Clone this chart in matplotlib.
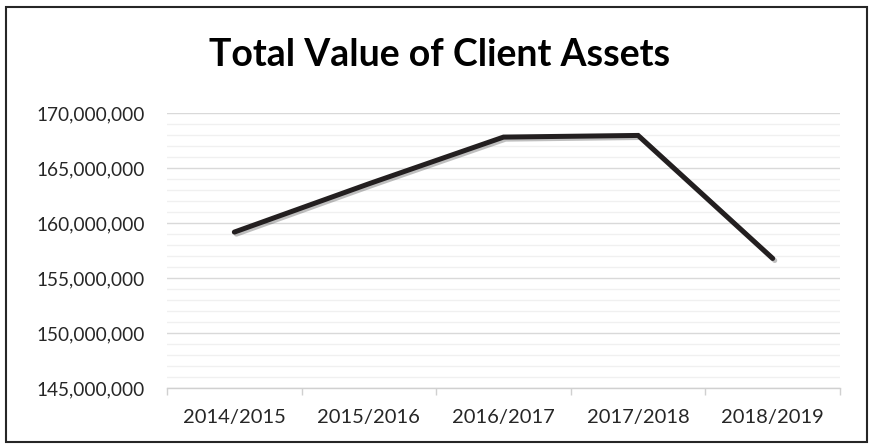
import matplotlib
matplotlib.use('Agg')
import matplotlib.pyplot as plt
import matplotlib.patheffects as pe
from matplotlib.ticker import FuncFormatter, MultipleLocator
from matplotlib.patches import Rectangle

plt.rcParams['font.family'] = ['Lato', 'DejaVu Sans']

years = ['2014/2015', '2015/2016', '2016/2017', '2017/2018', '2018/2019']
assets = [159200000, 163600000, 167850000, 168000000, 156800000]

fig = plt.figure(figsize=(8.7, 4.45), dpi=100)
ax = fig.add_axes([0.192, 0.128, 0.7735, 0.617])

x = list(range(len(years)))
ax.plot(x, assets, color='#231f20', lw=3.6, solid_capstyle='round', solid_joinstyle='miter',
        path_effects=[pe.SimpleLineShadow(offset=(1.5, -1.5), shadow_color='#000000', alpha=0.25),
                      pe.Normal()], zorder=3)

ax.set_xlim(-0.5, len(years) - 0.5)
ax.set_ylim(145000000, 170000000)
ax.yaxis.set_major_locator(MultipleLocator(5000000))
ax.yaxis.set_minor_locator(MultipleLocator(1000000))
ax.yaxis.set_major_formatter(FuncFormatter(lambda v, p: '{:,.0f}'.format(v)))
ax.grid(axis='y', which='major', color='#d9d9d9', lw=1.0)
ax.grid(axis='y', which='minor', color='#f0f0f0', lw=1.0)
ax.set_axisbelow(True)

ax.set_xticks(x)
ax.set_xticklabels(years)
ax.set_xticks([i - 0.5 for i in range(len(years) + 1)], minor=True)
ax.tick_params(axis='x', which='major', length=0, pad=15, labelsize=14.5, labelcolor='#262626')
ax.tick_params(axis='x', which='minor', length=5, color='#d0d0d0', width=1)
ax.tick_params(axis='y', which='both', length=0, pad=16, labelsize=13.7, labelcolor='#262626')

for s in ['top', 'right', 'left']:
    ax.spines[s].set_visible(False)
ax.spines['bottom'].set_color('#d0d0d0')
ax.spines['bottom'].set_linewidth(1.0)

fig.text(0.505, 0.876, 'Total Value of Client Assets', ha='center', va='center',
         fontsize=27, fontweight='bold', color='#000000')

fig.patches.append(Rectangle((0.007, 0.006), 0.989, 0.978, transform=fig.transFigure,
                             fill=False, edgecolor='#262626', lw=1.5))

fig.savefig('out.png', dpi=100)
